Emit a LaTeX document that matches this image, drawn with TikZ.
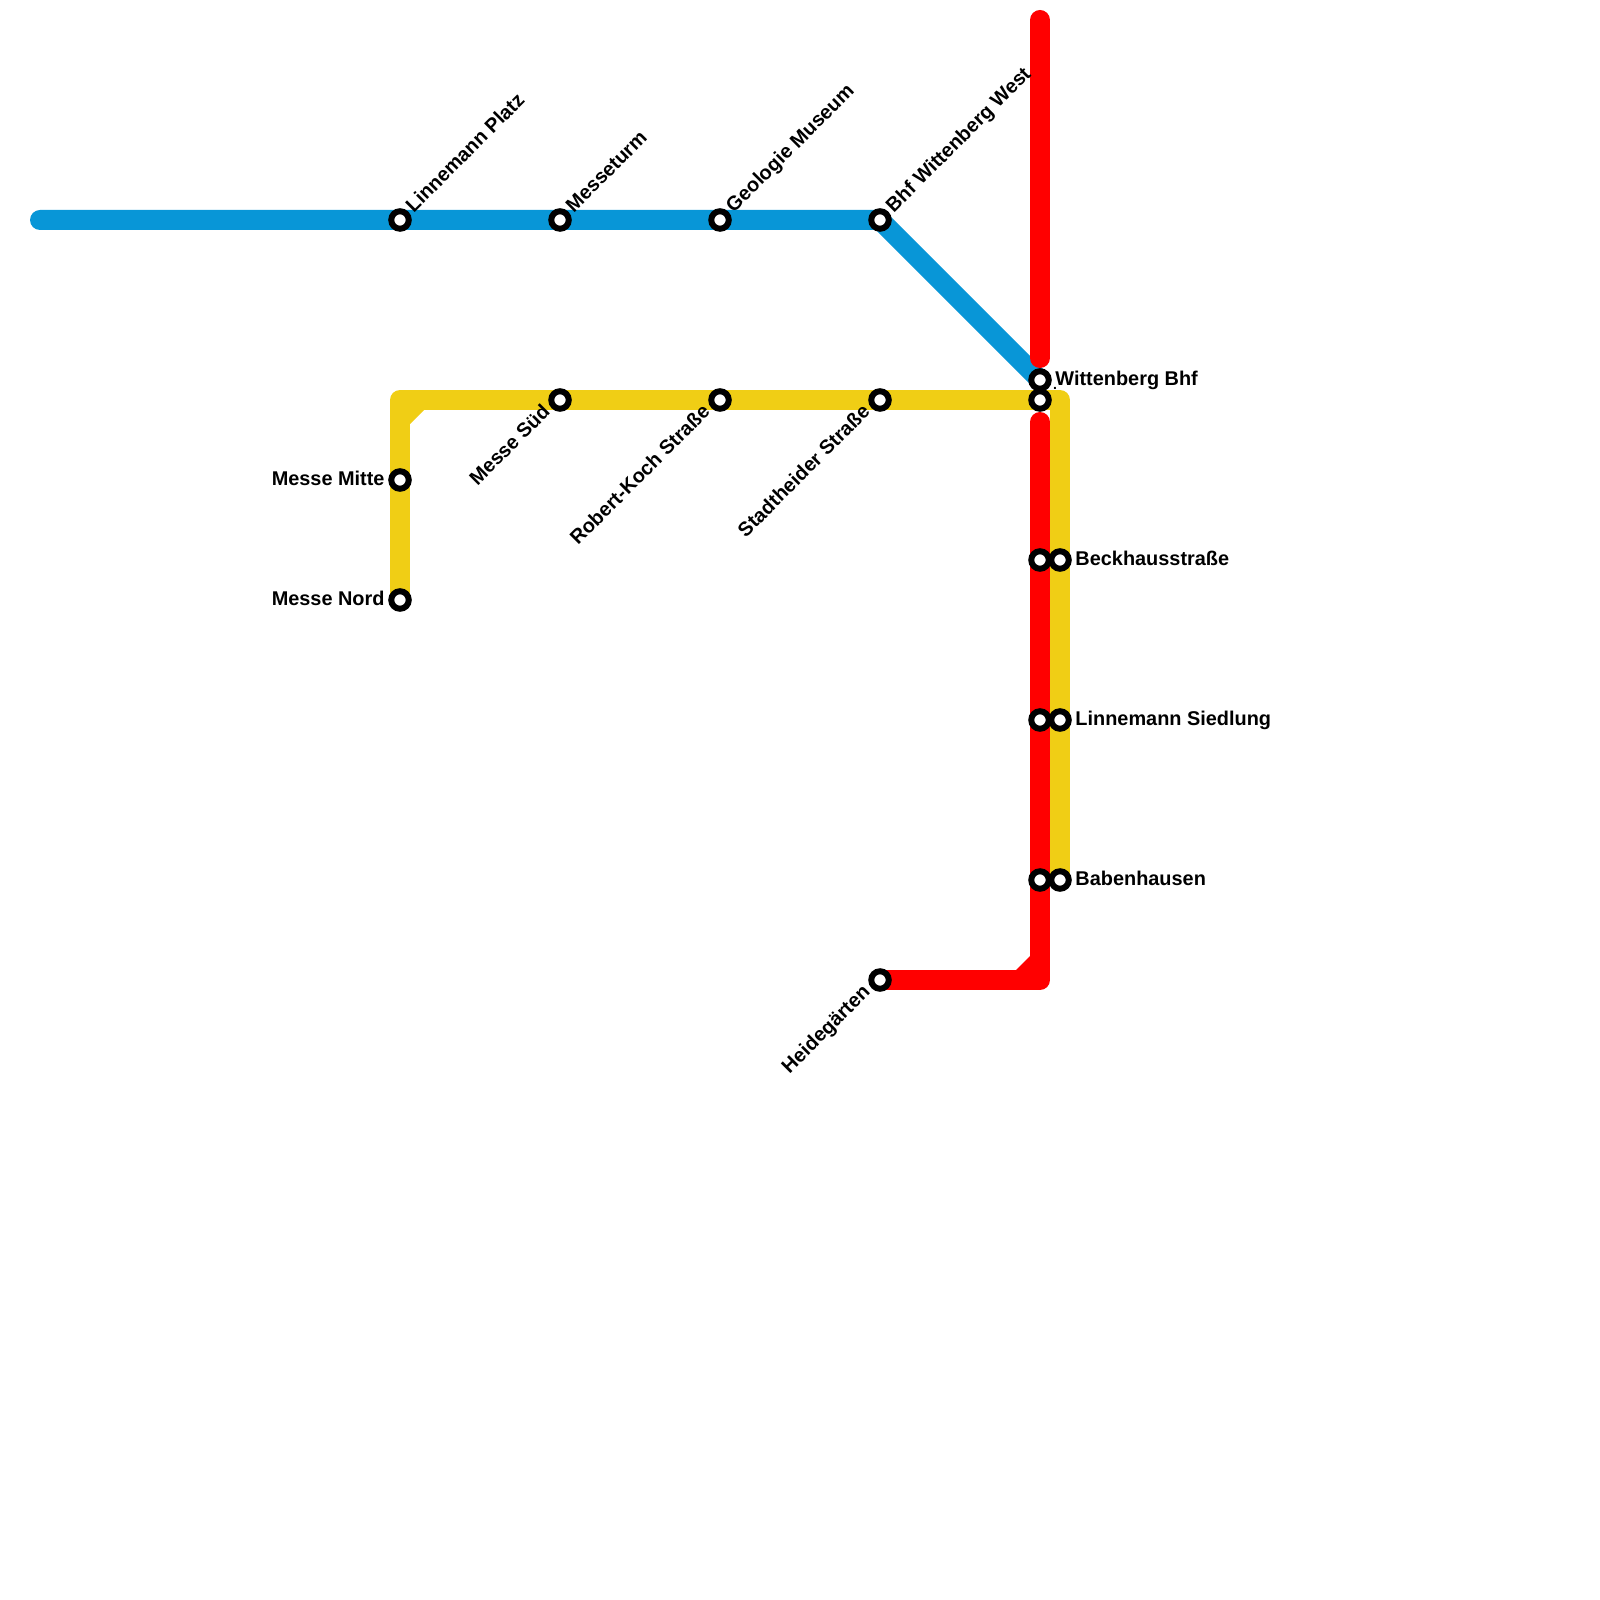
\documentclass[tikz,border=0pt]{standalone}
\usepackage{fontspec}
\setmainfont{Liberation Sans}
\usetikzlibrary{backgrounds}
\definecolor{blueline}{HTML}{0896D7}
\definecolor{yellowline}{HTML}{F0CE15}
\definecolor{redline}{HTML}{FF0000}
\begin{document}
\begin{tikzpicture}[scale=1]
    % Node styles
    \tikzset{stop/.style={circle,draw=black,fill=white,line width=0.06cm,inner sep=0pt,minimum size=0.175cm}}
    \tikzset{stop label/.style={font=\bfseries\fontsize{5.66pt}{7pt}\selectfont,inner sep=0pt,text height=4.1pt,text depth=0pt}}
    \tikzset{up/.style={stop label,rotate=45,anchor=west,label distance=0.03cm}}
    \tikzset{down/.style={stop label,rotate=45,anchor=east,label distance=0.03cm,xshift=-0.01cm,yshift=0.065cm}}
    \tikzset{side/.style={stop label,label distance=0.03cm,yshift=0.02cm}}
    \tikzset{metro/.style={line width=0.2cm,line cap=round,line join=round}}
    \useasboundingbox (0,0) rectangle (16,-16);

    % --- Blue line stops ---
    \node[stop, label={[up]45:Linnemann Platz}] (linnemann) at (4,-2.2) {};
    \node[stop, label={[up]45:Messeturm}] (messeturm) at (5.6,-2.2) {};
    \node[stop, label={[up]45:Geologie Museum}] (geologie) at (7.2,-2.2) {};
    \node[stop, label={[up]45:Bhf Wittenberg West}] (bhfwest) at (8.8,-2.2) {};
    \node[stop, label={[side]right:Wittenberg Bhf}] (wittenberg) at (10.4,-3.8) {};
    \coordinate (bluestart) at (0.4,-2.2);

    % --- Yellow line stops ---
    \node[stop, label={[side]left:Messe Nord}] (messenord) at (4,-6) {};
    \node[stop, label={[side]left:Messe Mitte}] (messemitte) at (4,-4.8) {};
    \node[stop, label={[down]225:Messe Süd}] (messesued) at (5.6,-4) {};
    \node[stop, label={[down]225:Robert-Koch Straße}] (robertkoch) at (7.2,-4) {};
    \node[stop, label={[down]225:Stadtheider Straße}] (stadtheider) at (8.8,-4) {};
    \node[stop] (wittenbergs) at (10.4,-4) {};
    \node[stop, label={[side]right:Beckhausstraße}] (beckhaus) at (10.6,-5.6) {};
    \node[stop, label={[side]right:Linnemann Siedlung}] (siedlung) at (10.6,-7.2) {};
    \node[stop, label={[side]right:Babenhausen}] (babenhausen) at (10.6,-8.8) {};
    \coordinate (yellowa) at (4,-4);
    \coordinate (yellowb) at (10.6,-4);
    \node[inner sep=0pt,font=\bfseries\fontsize{4pt}{4pt}\selectfont] (dot) at (10.55,-3.88) {.};

    % --- Red line stops ---
    \node[stop] (redbeck) at (10.4,-5.6) {};
    \node[stop] (redsied) at (10.4,-7.2) {};
    \node[stop] (redbaben) at (10.4,-8.8) {};
    \node[stop, label={[down]225:Heidegärten}] (heide) at (8.8,-9.8) {};
    \coordinate (redtop) at (10.4,-0.2);
    \coordinate (redmid) at (10.4,-3.58);
    \coordinate (redlow) at (10.4,-4.22);
    \coordinate (redcorner) at (10.4,-9.8);

    % --- Lines behind the stops ---
    \begin{pgfonlayer}{background}
    \draw[metro, blueline] (bluestart) -- (bhfwest.center) -- (wittenberg.center);
    \draw[metro, yellowline] (messenord.center) -- (yellowa) -- (yellowb) -- (babenhausen.center);
    \fill[yellowline] (4.1,-4.1) -- (4.24,-4.1) -- (4.1,-4.24) -- cycle;
    \draw[metro, redline] (redtop) -- (redmid);
    \draw[metro, redline] (redlow) -- (redcorner) -- (heide.center);
    \fill[redline] (10.3,-9.7) -- (10.3,-9.56) -- (10.16,-9.7) -- cycle;
    \end{pgfonlayer}
\end{tikzpicture}
\end{document}
